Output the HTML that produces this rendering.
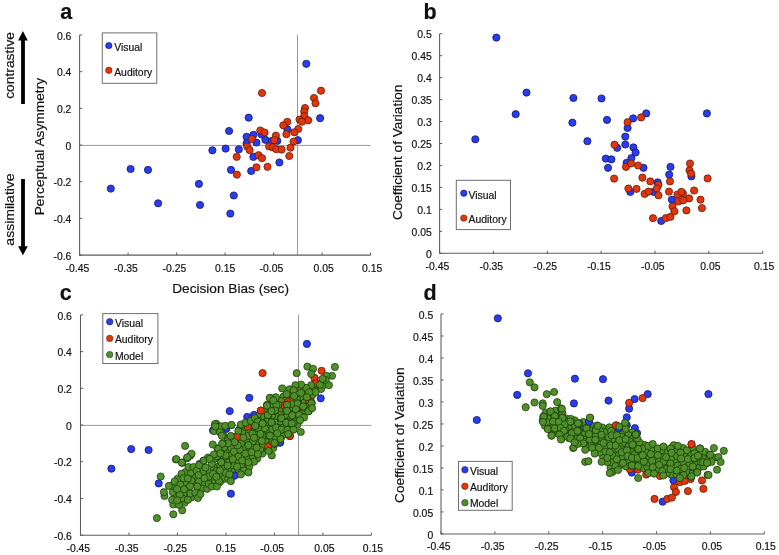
<!DOCTYPE html>
<html><head><meta charset="utf-8"><title>Figure</title>
<style>html,body{margin:0;padding:0;background:#fff;} body{width:779px;height:555px;overflow:hidden;} svg{display:block;will-change:transform;filter:blur(0.3px);} text{font-family:"Liberation Sans", sans-serif;stroke:#111;stroke-width:0.18px;}</style>
</head><body>
<svg width="779" height="555" viewBox="0 0 779 555" font-family='"Liberation Sans", sans-serif' fill="#111">
<line x1="79.6" y1="145.4" x2="370.6" y2="145.4" stroke="#9a9a9a" stroke-width="1"/>
<line x1="297.5" y1="35.0" x2="297.5" y2="255.1" stroke="#9a9a9a" stroke-width="1"/>
<path d="M79.6 35.0V255.1H370.6" fill="none" stroke="#5c5c5c" stroke-width="1.05"/>
<path d="M79.6 35.00h2.6M79.6 71.68h2.6M79.6 108.37h2.6M79.6 145.05h2.6M79.6 181.73h2.6M79.6 218.42h2.6M79.6 255.10h2.6M79.60 255.1v-2.6M128.10 255.1v-2.6M176.60 255.1v-2.6M225.10 255.1v-2.6M273.60 255.1v-2.6M322.10 255.1v-2.6M370.60 255.1v-2.6" stroke="#5c5c5c" stroke-width="1"/>
<text x="71.4" y="39.6" font-size="10.4" text-anchor="end" font-weight="normal" >0.6</text>
<text x="71.4" y="76.3" font-size="10.4" text-anchor="end" font-weight="normal" >0.4</text>
<text x="71.4" y="113.0" font-size="10.4" text-anchor="end" font-weight="normal" >0.2</text>
<text x="71.4" y="149.7" font-size="10.4" text-anchor="end" font-weight="normal" >0</text>
<text x="71.4" y="186.3" font-size="10.4" text-anchor="end" font-weight="normal" >-0.2</text>
<text x="71.4" y="223.0" font-size="10.4" text-anchor="end" font-weight="normal" >-0.4</text>
<text x="71.4" y="259.7" font-size="10.4" text-anchor="end" font-weight="normal" >-0.6</text>
<text x="77.4" y="271.6" font-size="10.4" text-anchor="middle" font-weight="normal" >-0.45</text>
<text x="125.9" y="271.6" font-size="10.4" text-anchor="middle" font-weight="normal" >-0.35</text>
<text x="174.4" y="271.6" font-size="10.4" text-anchor="middle" font-weight="normal" >-0.25</text>
<text x="225.1" y="271.6" font-size="10.4" text-anchor="middle" font-weight="normal" >0.15</text>
<text x="271.4" y="271.6" font-size="10.4" text-anchor="middle" font-weight="normal" >-0.05</text>
<text x="323.6" y="271.6" font-size="10.4" text-anchor="middle" font-weight="normal" >0.05</text>
<text x="372.1" y="271.6" font-size="10.4" text-anchor="middle" font-weight="normal" >0.15</text>
<g fill="#2a3cf0" stroke="#10186a" stroke-width="0.8">
<circle cx="110.8" cy="188.6" r="3.6"/>
<circle cx="130.6" cy="169.0" r="3.6"/>
<circle cx="148.0" cy="169.9" r="3.6"/>
<circle cx="158.1" cy="203.3" r="3.6"/>
<circle cx="198.9" cy="183.9" r="3.6"/>
<circle cx="200.0" cy="205.0" r="3.6"/>
<circle cx="212.4" cy="150.3" r="3.6"/>
<circle cx="225.6" cy="148.6" r="3.6"/>
<circle cx="229.1" cy="131.0" r="3.6"/>
<circle cx="231.0" cy="169.9" r="3.6"/>
<circle cx="233.8" cy="195.5" r="3.6"/>
<circle cx="230.3" cy="213.6" r="3.6"/>
<circle cx="238.8" cy="149.4" r="3.6"/>
<circle cx="246.6" cy="136.8" r="3.6"/>
<circle cx="246.6" cy="143.2" r="3.6"/>
<circle cx="248.7" cy="117.7" r="3.6"/>
<circle cx="253.4" cy="134.8" r="3.6"/>
<circle cx="256.4" cy="142.5" r="3.6"/>
<circle cx="253.4" cy="156.9" r="3.6"/>
<circle cx="251.2" cy="171.0" r="3.6"/>
<circle cx="265.4" cy="139.8" r="3.6"/>
<circle cx="261.5" cy="134.4" r="3.6"/>
<circle cx="287.4" cy="129.4" r="3.6"/>
<circle cx="277.3" cy="140.9" r="3.6"/>
<circle cx="271.9" cy="140.9" r="3.6"/>
<circle cx="297.9" cy="140.2" r="3.6"/>
<circle cx="279.4" cy="162.5" r="3.6"/>
<circle cx="306.3" cy="63.8" r="3.6"/>
<circle cx="320.1" cy="118.2" r="3.6"/>
</g>
<g fill="#e0380c" stroke="#6a1808" stroke-width="0.8">
<circle cx="262.0" cy="93.0" r="3.6"/>
<circle cx="321.0" cy="90.7" r="3.6"/>
<circle cx="314.0" cy="98.0" r="3.6"/>
<circle cx="315.5" cy="103.3" r="3.6"/>
<circle cx="305.0" cy="108.0" r="3.6"/>
<circle cx="304.2" cy="111.7" r="3.6"/>
<circle cx="304.2" cy="116.2" r="3.6"/>
<circle cx="299.5" cy="119.6" r="3.6"/>
<circle cx="308.2" cy="120.3" r="3.6"/>
<circle cx="302.0" cy="121.7" r="3.6"/>
<circle cx="287.3" cy="121.8" r="3.6"/>
<circle cx="283.3" cy="125.3" r="3.6"/>
<circle cx="298.3" cy="129.0" r="3.6"/>
<circle cx="294.3" cy="132.3" r="3.6"/>
<circle cx="286.4" cy="134.2" r="3.6"/>
<circle cx="260.3" cy="130.5" r="3.6"/>
<circle cx="264.6" cy="132.5" r="3.6"/>
<circle cx="275.9" cy="135.6" r="3.6"/>
<circle cx="274.3" cy="140.1" r="3.6"/>
<circle cx="251.8" cy="138.9" r="3.6"/>
<circle cx="293.5" cy="141.6" r="3.6"/>
<circle cx="290.5" cy="147.7" r="3.6"/>
<circle cx="269.1" cy="146.4" r="3.6"/>
<circle cx="272.7" cy="147.3" r="3.6"/>
<circle cx="276.3" cy="149.2" r="3.6"/>
<circle cx="281.7" cy="149.6" r="3.6"/>
<circle cx="247.2" cy="146.5" r="3.6"/>
<circle cx="249.6" cy="150.1" r="3.6"/>
<circle cx="236.7" cy="156.8" r="3.6"/>
<circle cx="258.5" cy="155.2" r="3.6"/>
<circle cx="262.0" cy="158.2" r="3.6"/>
<circle cx="289.3" cy="156.0" r="3.6"/>
<circle cx="256.4" cy="167.3" r="3.6"/>
<circle cx="267.5" cy="166.8" r="3.6"/>
<circle cx="236.9" cy="174.6" r="3.6"/>
</g>
<rect x="102.3" y="32.9" width="54.500000000000014" height="50.4" fill="#fff" stroke="#6e6e6e" stroke-width="1"/>
<circle cx="108.8" cy="45.6" r="3.2" fill="#2a3cf0" stroke="#10186a" stroke-width="0.6"/>
<text x="114.2" y="50.7" font-size="10.4" text-anchor="start" font-weight="normal" >Visual</text>
<circle cx="108.8" cy="70.3" r="3.2" fill="#e0380c" stroke="#6a1808" stroke-width="0.6"/>
<text x="114.2" y="75.5" font-size="10.4" text-anchor="start" font-weight="normal" >Auditory</text>
<path d="M439.6 33.7V253.3H762.7" fill="none" stroke="#5c5c5c" stroke-width="1.05"/>
<path d="M439.6 33.70h2.6M439.6 55.66h2.6M439.6 77.62h2.6M439.6 99.58h2.6M439.6 121.54h2.6M439.6 143.50h2.6M439.6 165.46h2.6M439.6 187.42h2.6M439.6 209.38h2.6M439.6 231.34h2.6M439.6 253.30h2.6M439.60 253.3v-2.6M493.45 253.3v-2.6M547.30 253.3v-2.6M601.15 253.3v-2.6M655.00 253.3v-2.6M708.85 253.3v-2.6M762.70 253.3v-2.6" stroke="#5c5c5c" stroke-width="1"/>
<text x="431.8" y="38.3" font-size="10.4" text-anchor="end" font-weight="normal" >0.5</text>
<text x="431.8" y="60.3" font-size="10.4" text-anchor="end" font-weight="normal" >0.45</text>
<text x="431.8" y="82.2" font-size="10.4" text-anchor="end" font-weight="normal" >0.4</text>
<text x="431.8" y="104.2" font-size="10.4" text-anchor="end" font-weight="normal" >0.35</text>
<text x="431.8" y="126.1" font-size="10.4" text-anchor="end" font-weight="normal" >0.3</text>
<text x="431.8" y="148.1" font-size="10.4" text-anchor="end" font-weight="normal" >0.25</text>
<text x="431.8" y="170.1" font-size="10.4" text-anchor="end" font-weight="normal" >0.2</text>
<text x="431.8" y="192.0" font-size="10.4" text-anchor="end" font-weight="normal" >0.15</text>
<text x="431.8" y="214.0" font-size="10.4" text-anchor="end" font-weight="normal" >0.1</text>
<text x="431.8" y="235.9" font-size="10.4" text-anchor="end" font-weight="normal" >0.05</text>
<text x="431.8" y="257.9" font-size="10.4" text-anchor="end" font-weight="normal" >0</text>
<text x="437.4" y="269.8" font-size="10.4" text-anchor="middle" font-weight="normal" >-0.45</text>
<text x="491.3" y="269.8" font-size="10.4" text-anchor="middle" font-weight="normal" >-0.35</text>
<text x="545.1" y="269.8" font-size="10.4" text-anchor="middle" font-weight="normal" >-0.25</text>
<text x="599.0" y="269.8" font-size="10.4" text-anchor="middle" font-weight="normal" >-0.15</text>
<text x="652.8" y="269.8" font-size="10.4" text-anchor="middle" font-weight="normal" >-0.05</text>
<text x="710.4" y="269.8" font-size="10.4" text-anchor="middle" font-weight="normal" >0.05</text>
<text x="764.2" y="269.8" font-size="10.4" text-anchor="middle" font-weight="normal" >0.15</text>
<g fill="#2a3cf0" stroke="#10186a" stroke-width="0.8">
<circle cx="496.3" cy="37.6" r="3.6"/>
<circle cx="526.5" cy="92.6" r="3.6"/>
<circle cx="515.7" cy="114.2" r="3.6"/>
<circle cx="475.3" cy="139.3" r="3.6"/>
<circle cx="573.4" cy="98.0" r="3.6"/>
<circle cx="601.5" cy="98.5" r="3.6"/>
<circle cx="572.4" cy="122.7" r="3.6"/>
<circle cx="587.4" cy="141.2" r="3.6"/>
<circle cx="607.0" cy="119.9" r="3.6"/>
<circle cx="646.2" cy="113.4" r="3.6"/>
<circle cx="706.9" cy="113.4" r="3.6"/>
<circle cx="633.1" cy="118.4" r="3.6"/>
<circle cx="627.6" cy="128.0" r="3.6"/>
<circle cx="625.3" cy="136.6" r="3.6"/>
<circle cx="625.3" cy="144.5" r="3.6"/>
<circle cx="617.2" cy="147.8" r="3.6"/>
<circle cx="633.4" cy="147.4" r="3.6"/>
<circle cx="635.6" cy="152.5" r="3.6"/>
<circle cx="605.8" cy="158.6" r="3.6"/>
<circle cx="611.4" cy="159.4" r="3.6"/>
<circle cx="608.0" cy="167.8" r="3.6"/>
<circle cx="631.4" cy="158.1" r="3.6"/>
<circle cx="643.5" cy="167.8" r="3.6"/>
<circle cx="670.5" cy="166.9" r="3.6"/>
<circle cx="669.2" cy="174.6" r="3.6"/>
<circle cx="657.7" cy="182.4" r="3.6"/>
<circle cx="653.6" cy="191.9" r="3.6"/>
<circle cx="630.3" cy="191.9" r="3.6"/>
<circle cx="671.9" cy="199.7" r="3.6"/>
<circle cx="661.2" cy="221.0" r="3.6"/>
<circle cx="691.4" cy="176.4" r="3.6"/>
<circle cx="626.6" cy="162.8" r="3.6"/>
</g>
<g fill="#e0380c" stroke="#6a1808" stroke-width="0.8">
<circle cx="641.1" cy="117.4" r="3.6"/>
<circle cx="627.6" cy="122.2" r="3.6"/>
<circle cx="614.5" cy="144.7" r="3.6"/>
<circle cx="626.0" cy="166.9" r="3.6"/>
<circle cx="631.1" cy="163.5" r="3.6"/>
<circle cx="638.1" cy="165.5" r="3.6"/>
<circle cx="614.1" cy="178.6" r="3.6"/>
<circle cx="642.4" cy="177.7" r="3.6"/>
<circle cx="650.3" cy="181.4" r="3.6"/>
<circle cx="658.4" cy="184.9" r="3.6"/>
<circle cx="656.8" cy="188.5" r="3.6"/>
<circle cx="658.4" cy="195.3" r="3.6"/>
<circle cx="670.0" cy="181.4" r="3.6"/>
<circle cx="669.0" cy="191.6" r="3.6"/>
<circle cx="628.4" cy="188.5" r="3.6"/>
<circle cx="636.5" cy="188.9" r="3.6"/>
<circle cx="644.6" cy="193.9" r="3.6"/>
<circle cx="648.6" cy="191.6" r="3.6"/>
<circle cx="677.5" cy="194.5" r="3.6"/>
<circle cx="678.5" cy="201.5" r="3.6"/>
<circle cx="672.5" cy="206.5" r="3.6"/>
<circle cx="674.4" cy="211.3" r="3.6"/>
<circle cx="653.0" cy="218.2" r="3.6"/>
<circle cx="665.8" cy="218.2" r="3.6"/>
<circle cx="670.4" cy="216.9" r="3.6"/>
<circle cx="690.0" cy="163.5" r="3.6"/>
<circle cx="689.5" cy="170.3" r="3.6"/>
<circle cx="691.1" cy="173.6" r="3.6"/>
<circle cx="707.6" cy="178.4" r="3.6"/>
<circle cx="694.1" cy="190.5" r="3.6"/>
<circle cx="683.0" cy="193.5" r="3.6"/>
<circle cx="681.4" cy="191.9" r="3.6"/>
<circle cx="689.1" cy="198.4" r="3.6"/>
<circle cx="683.2" cy="200.3" r="3.6"/>
<circle cx="700.5" cy="199.7" r="3.6"/>
<circle cx="686.4" cy="210.4" r="3.6"/>
<circle cx="701.9" cy="208.1" r="3.6"/>
</g>
<rect x="456.3" y="180.3" width="54.19999999999999" height="49.29999999999998" fill="#fff" stroke="#6e6e6e" stroke-width="1"/>
<circle cx="463.8" cy="193.2" r="3.2" fill="#2a3cf0" stroke="#10186a" stroke-width="0.6"/>
<text x="468.5" y="198.5" font-size="10.4" text-anchor="start" font-weight="normal" >Visual</text>
<circle cx="463.8" cy="218.1" r="3.2" fill="#e0380c" stroke="#6a1808" stroke-width="0.6"/>
<text x="468.5" y="223.3" font-size="10.4" text-anchor="start" font-weight="normal" >Auditory</text>
<line x1="80.5" y1="425.4" x2="371.4" y2="425.4" stroke="#9a9a9a" stroke-width="1"/>
<line x1="298.5" y1="314.9" x2="298.5" y2="535.2" stroke="#9a9a9a" stroke-width="1"/>
<path d="M80.5 314.9V535.2H371.4" fill="none" stroke="#5c5c5c" stroke-width="1.05"/>
<path d="M80.5 314.90h2.6M80.5 351.62h2.6M80.5 388.33h2.6M80.5 425.05h2.6M80.5 461.77h2.6M80.5 498.48h2.6M80.5 535.20h2.6M80.50 535.2v-2.6M128.98 535.2v-2.6M177.47 535.2v-2.6M225.95 535.2v-2.6M274.43 535.2v-2.6M322.92 535.2v-2.6M371.40 535.2v-2.6" stroke="#5c5c5c" stroke-width="1"/>
<text x="71.9" y="319.5" font-size="10.4" text-anchor="end" font-weight="normal" >0.6</text>
<text x="71.9" y="356.2" font-size="10.4" text-anchor="end" font-weight="normal" >0.4</text>
<text x="71.9" y="392.9" font-size="10.4" text-anchor="end" font-weight="normal" >0.2</text>
<text x="71.9" y="429.7" font-size="10.4" text-anchor="end" font-weight="normal" >0</text>
<text x="71.9" y="466.4" font-size="10.4" text-anchor="end" font-weight="normal" >-0.2</text>
<text x="71.9" y="503.1" font-size="10.4" text-anchor="end" font-weight="normal" >-0.4</text>
<text x="71.9" y="539.8" font-size="10.4" text-anchor="end" font-weight="normal" >-0.6</text>
<text x="78.3" y="551.6" font-size="10.4" text-anchor="middle" font-weight="normal" >-0.45</text>
<text x="126.8" y="551.6" font-size="10.4" text-anchor="middle" font-weight="normal" >-0.35</text>
<text x="175.3" y="551.6" font-size="10.4" text-anchor="middle" font-weight="normal" >-0.25</text>
<text x="225.9" y="551.6" font-size="10.4" text-anchor="middle" font-weight="normal" >0.15</text>
<text x="272.2" y="551.6" font-size="10.4" text-anchor="middle" font-weight="normal" >-0.05</text>
<text x="324.4" y="551.6" font-size="10.4" text-anchor="middle" font-weight="normal" >0.05</text>
<text x="372.9" y="551.6" font-size="10.4" text-anchor="middle" font-weight="normal" >0.15</text>
<g fill="#2a3cf0" stroke="#10186a" stroke-width="0.8">
<circle cx="111.4" cy="468.7" r="3.6"/>
<circle cx="131.2" cy="449.1" r="3.6"/>
<circle cx="148.6" cy="450.0" r="3.6"/>
<circle cx="158.7" cy="483.4" r="3.6"/>
<circle cx="199.5" cy="464.0" r="3.6"/>
<circle cx="200.6" cy="485.1" r="3.6"/>
<circle cx="213.0" cy="430.4" r="3.6"/>
<circle cx="226.2" cy="428.7" r="3.6"/>
<circle cx="229.7" cy="411.1" r="3.6"/>
<circle cx="231.6" cy="450.0" r="3.6"/>
<circle cx="234.4" cy="475.6" r="3.6"/>
<circle cx="230.9" cy="493.7" r="3.6"/>
<circle cx="239.4" cy="429.5" r="3.6"/>
<circle cx="247.2" cy="416.9" r="3.6"/>
<circle cx="247.2" cy="423.3" r="3.6"/>
<circle cx="249.3" cy="397.8" r="3.6"/>
<circle cx="254.0" cy="414.9" r="3.6"/>
<circle cx="257.0" cy="422.6" r="3.6"/>
<circle cx="254.0" cy="437.0" r="3.6"/>
<circle cx="251.8" cy="451.1" r="3.6"/>
<circle cx="266.0" cy="419.9" r="3.6"/>
<circle cx="262.1" cy="414.5" r="3.6"/>
<circle cx="288.0" cy="409.5" r="3.6"/>
<circle cx="277.9" cy="421.0" r="3.6"/>
<circle cx="272.5" cy="421.0" r="3.6"/>
<circle cx="298.5" cy="420.3" r="3.6"/>
<circle cx="280.0" cy="442.6" r="3.6"/>
<circle cx="306.9" cy="343.9" r="3.6"/>
<circle cx="320.7" cy="398.3" r="3.6"/>
</g>
<g fill="#e0380c" stroke="#6a1808" stroke-width="0.8">
<circle cx="262.6" cy="373.1" r="3.6"/>
<circle cx="321.6" cy="370.8" r="3.6"/>
<circle cx="314.6" cy="378.1" r="3.6"/>
<circle cx="316.1" cy="383.4" r="3.6"/>
<circle cx="305.6" cy="388.1" r="3.6"/>
<circle cx="304.8" cy="391.8" r="3.6"/>
<circle cx="304.8" cy="396.3" r="3.6"/>
<circle cx="300.1" cy="399.7" r="3.6"/>
<circle cx="308.8" cy="400.4" r="3.6"/>
<circle cx="302.6" cy="401.8" r="3.6"/>
<circle cx="287.9" cy="401.9" r="3.6"/>
<circle cx="283.9" cy="405.4" r="3.6"/>
<circle cx="298.9" cy="409.1" r="3.6"/>
<circle cx="294.9" cy="412.4" r="3.6"/>
<circle cx="287.0" cy="414.3" r="3.6"/>
<circle cx="260.9" cy="410.6" r="3.6"/>
<circle cx="265.2" cy="412.6" r="3.6"/>
<circle cx="276.5" cy="415.7" r="3.6"/>
<circle cx="274.9" cy="420.2" r="3.6"/>
<circle cx="252.4" cy="419.0" r="3.6"/>
<circle cx="294.1" cy="421.7" r="3.6"/>
<circle cx="291.1" cy="427.8" r="3.6"/>
<circle cx="269.7" cy="426.5" r="3.6"/>
<circle cx="273.3" cy="427.4" r="3.6"/>
<circle cx="276.9" cy="429.3" r="3.6"/>
<circle cx="282.3" cy="429.7" r="3.6"/>
<circle cx="247.8" cy="426.6" r="3.6"/>
<circle cx="250.2" cy="430.2" r="3.6"/>
<circle cx="237.3" cy="436.9" r="3.6"/>
<circle cx="259.1" cy="435.3" r="3.6"/>
<circle cx="262.6" cy="438.3" r="3.6"/>
<circle cx="289.9" cy="436.1" r="3.6"/>
<circle cx="257.0" cy="447.4" r="3.6"/>
<circle cx="268.1" cy="446.9" r="3.6"/>
<circle cx="237.5" cy="454.7" r="3.6"/>
</g>
<g fill="#50902a" stroke="#183409" stroke-width="0.72">
<circle cx="292.0" cy="399.6" r="3.6"/>
<circle cx="227.3" cy="451.2" r="3.6"/>
<circle cx="185.5" cy="472.1" r="3.6"/>
<circle cx="194.9" cy="482.9" r="3.6"/>
<circle cx="186.6" cy="482.3" r="3.6"/>
<circle cx="264.5" cy="449.4" r="3.6"/>
<circle cx="264.5" cy="412.0" r="3.6"/>
<circle cx="299.5" cy="388.4" r="3.6"/>
<circle cx="283.4" cy="396.6" r="3.6"/>
<circle cx="209.2" cy="472.3" r="3.6"/>
<circle cx="300.9" cy="397.2" r="3.6"/>
<circle cx="310.6" cy="398.7" r="3.6"/>
<circle cx="286.1" cy="400.1" r="3.6"/>
<circle cx="211.4" cy="479.9" r="3.6"/>
<circle cx="282.9" cy="434.9" r="3.6"/>
<circle cx="245.1" cy="466.5" r="3.6"/>
<circle cx="283.9" cy="426.0" r="3.6"/>
<circle cx="321.1" cy="388.9" r="3.6"/>
<circle cx="227.7" cy="438.8" r="3.6"/>
<circle cx="248.1" cy="449.6" r="3.6"/>
<circle cx="259.5" cy="415.7" r="3.6"/>
<circle cx="184.6" cy="502.7" r="3.6"/>
<circle cx="271.5" cy="440.1" r="3.6"/>
<circle cx="297.0" cy="399.6" r="3.6"/>
<circle cx="314.6" cy="388.3" r="3.6"/>
<circle cx="243.5" cy="447.1" r="3.6"/>
<circle cx="290.2" cy="407.9" r="3.6"/>
<circle cx="239.8" cy="449.7" r="3.6"/>
<circle cx="222.0" cy="474.7" r="3.6"/>
<circle cx="248.0" cy="440.7" r="3.6"/>
<circle cx="262.3" cy="453.6" r="3.6"/>
<circle cx="248.4" cy="431.9" r="3.6"/>
<circle cx="280.8" cy="413.6" r="3.6"/>
<circle cx="265.8" cy="441.5" r="3.6"/>
<circle cx="256.4" cy="432.6" r="3.6"/>
<circle cx="242.4" cy="431.7" r="3.6"/>
<circle cx="286.9" cy="416.2" r="3.6"/>
<circle cx="247.7" cy="436.1" r="3.6"/>
<circle cx="250.6" cy="425.3" r="3.6"/>
<circle cx="271.4" cy="404.1" r="3.6"/>
<circle cx="202.4" cy="484.0" r="3.6"/>
<circle cx="256.6" cy="442.4" r="3.6"/>
<circle cx="324.0" cy="384.8" r="3.6"/>
<circle cx="201.6" cy="488.6" r="3.6"/>
<circle cx="230.6" cy="469.5" r="3.6"/>
<circle cx="281.7" cy="408.4" r="3.6"/>
<circle cx="235.1" cy="475.1" r="3.6"/>
<circle cx="269.3" cy="426.3" r="3.6"/>
<circle cx="239.2" cy="437.5" r="3.6"/>
<circle cx="194.1" cy="477.2" r="3.6"/>
<circle cx="231.3" cy="448.4" r="3.6"/>
<circle cx="198.9" cy="481.2" r="3.6"/>
<circle cx="281.1" cy="401.2" r="3.6"/>
<circle cx="269.6" cy="445.6" r="3.6"/>
<circle cx="257.2" cy="458.6" r="3.6"/>
<circle cx="251.9" cy="458.2" r="3.6"/>
<circle cx="203.2" cy="471.7" r="3.6"/>
<circle cx="264.2" cy="435.7" r="3.6"/>
<circle cx="252.7" cy="441.6" r="3.6"/>
<circle cx="304.4" cy="402.6" r="3.6"/>
<circle cx="235.0" cy="436.7" r="3.6"/>
<circle cx="188.2" cy="490.0" r="3.6"/>
<circle cx="297.4" cy="424.7" r="3.6"/>
<circle cx="303.8" cy="411.4" r="3.6"/>
<circle cx="241.1" cy="443.3" r="3.6"/>
<circle cx="218.8" cy="466.0" r="3.6"/>
<circle cx="237.9" cy="461.2" r="3.6"/>
<circle cx="183.6" cy="493.9" r="3.6"/>
<circle cx="264.0" cy="417.2" r="3.6"/>
<circle cx="182.4" cy="498.5" r="3.6"/>
<circle cx="258.6" cy="428.3" r="3.6"/>
<circle cx="276.4" cy="416.6" r="3.6"/>
<circle cx="234.4" cy="471.0" r="3.6"/>
<circle cx="207.1" cy="488.8" r="3.6"/>
<circle cx="213.6" cy="459.3" r="3.6"/>
<circle cx="223.8" cy="447.7" r="3.6"/>
<circle cx="272.3" cy="415.2" r="3.6"/>
<circle cx="312.5" cy="394.7" r="3.6"/>
<circle cx="258.7" cy="438.1" r="3.6"/>
<circle cx="177.6" cy="478.8" r="3.6"/>
<circle cx="237.6" cy="445.4" r="3.6"/>
<circle cx="191.3" cy="497.5" r="3.6"/>
<circle cx="245.4" cy="426.9" r="3.6"/>
<circle cx="233.4" cy="465.2" r="3.6"/>
<circle cx="262.8" cy="445.7" r="3.6"/>
<circle cx="213.8" cy="467.8" r="3.6"/>
<circle cx="273.3" cy="433.0" r="3.6"/>
<circle cx="223.6" cy="478.9" r="3.6"/>
<circle cx="308.2" cy="406.4" r="3.6"/>
<circle cx="230.3" cy="455.6" r="3.6"/>
<circle cx="290.2" cy="419.6" r="3.6"/>
<circle cx="246.5" cy="458.8" r="3.6"/>
<circle cx="241.1" cy="466.2" r="3.6"/>
<circle cx="315.1" cy="383.9" r="3.6"/>
<circle cx="252.3" cy="447.8" r="3.6"/>
<circle cx="290.6" cy="393.9" r="3.6"/>
<circle cx="268.2" cy="431.1" r="3.6"/>
<circle cx="295.9" cy="418.7" r="3.6"/>
<circle cx="175.3" cy="496.3" r="3.6"/>
<circle cx="273.3" cy="448.0" r="3.6"/>
<circle cx="225.5" cy="459.6" r="3.6"/>
<circle cx="260.2" cy="449.9" r="3.6"/>
<circle cx="315.6" cy="392.2" r="3.6"/>
<circle cx="252.5" cy="433.7" r="3.6"/>
<circle cx="224.5" cy="468.2" r="3.6"/>
<circle cx="249.3" cy="466.5" r="3.6"/>
<circle cx="275.5" cy="437.3" r="3.6"/>
<circle cx="208.7" cy="476.5" r="3.6"/>
<circle cx="191.4" cy="480.4" r="3.6"/>
<circle cx="238.8" cy="470.6" r="3.6"/>
<circle cx="289.6" cy="389.3" r="3.6"/>
<circle cx="214.3" cy="483.1" r="3.6"/>
</g>
<g fill="#2a3cf0" stroke="#10186a" stroke-width="0.8">
<circle cx="234.4" cy="475.6" r="3.6"/>
<circle cx="280.0" cy="442.6" r="3.6"/>
<circle cx="226.2" cy="428.7" r="3.6"/>
</g>
<g fill="#e0380c" stroke="#6a1808" stroke-width="0.8">
<circle cx="237.3" cy="436.9" r="3.6"/>
<circle cx="260.9" cy="410.6" r="3.6"/>
<circle cx="247.8" cy="426.6" r="3.6"/>
<circle cx="268.1" cy="446.9" r="3.6"/>
<circle cx="289.9" cy="436.1" r="3.6"/>
<circle cx="287.9" cy="401.9" r="3.6"/>
<circle cx="283.9" cy="405.4" r="3.6"/>
<circle cx="308.8" cy="400.4" r="3.6"/>
<circle cx="314.6" cy="378.1" r="3.6"/>
<circle cx="316.1" cy="383.4" r="3.6"/>
</g>
<g fill="#50902a" stroke="#183409" stroke-width="0.72">
<circle cx="156.9" cy="518.1" r="3.6"/>
<circle cx="173.3" cy="514.3" r="3.6"/>
<circle cx="182.2" cy="510.3" r="3.6"/>
<circle cx="173.3" cy="504.5" r="3.6"/>
<circle cx="179.0" cy="504.8" r="3.6"/>
<circle cx="172.1" cy="499.8" r="3.6"/>
<circle cx="164.5" cy="496.0" r="3.6"/>
<circle cx="163.9" cy="492.2" r="3.6"/>
<circle cx="172.7" cy="492.2" r="3.6"/>
<circle cx="172.1" cy="485.9" r="3.6"/>
<circle cx="174.6" cy="481.5" r="3.6"/>
<circle cx="160.7" cy="476.5" r="3.6"/>
<circle cx="175.9" cy="459.4" r="3.6"/>
<circle cx="182.2" cy="462.8" r="3.6"/>
<circle cx="187.2" cy="458.2" r="3.6"/>
<circle cx="190.4" cy="455.6" r="3.6"/>
<circle cx="181.5" cy="473.9" r="3.6"/>
<circle cx="183.4" cy="478.3" r="3.6"/>
<circle cx="180.3" cy="484.7" r="3.6"/>
<circle cx="184.1" cy="489.3" r="3.6"/>
<circle cx="179.7" cy="494.7" r="3.6"/>
<circle cx="177.1" cy="500.4" r="3.6"/>
<circle cx="187.9" cy="499.8" r="3.6"/>
<circle cx="190.4" cy="493.5" r="3.6"/>
<circle cx="190.1" cy="486.3" r="3.6"/>
<circle cx="187.9" cy="478.3" r="3.6"/>
<circle cx="191.0" cy="472.7" r="3.6"/>
<circle cx="188.5" cy="467.0" r="3.6"/>
<circle cx="193.5" cy="467.0" r="3.6"/>
<circle cx="196.7" cy="470.8" r="3.6"/>
<circle cx="198.6" cy="475.2" r="3.6"/>
<circle cx="197.3" cy="486.5" r="3.6"/>
<circle cx="195.4" cy="492.9" r="3.6"/>
<circle cx="198.0" cy="497.9" r="3.6"/>
<circle cx="200.5" cy="494.1" r="3.6"/>
<circle cx="203.6" cy="460.7" r="3.6"/>
<circle cx="199.2" cy="465.1" r="3.6"/>
<circle cx="205.5" cy="467.6" r="3.6"/>
<circle cx="204.3" cy="478.3" r="3.6"/>
<circle cx="208.7" cy="484.0" r="3.6"/>
<circle cx="211.8" cy="463.8" r="3.6"/>
<circle cx="216.9" cy="470.8" r="3.6"/>
<circle cx="220.7" cy="461.3" r="3.6"/>
<circle cx="220.0" cy="482.1" r="3.6"/>
<circle cx="213.1" cy="473.9" r="3.6"/>
<circle cx="211.8" cy="486.5" r="3.6"/>
<circle cx="216.9" cy="486.5" r="3.6"/>
<circle cx="225.7" cy="472.7" r="3.6"/>
<circle cx="228.2" cy="479.0" r="3.6"/>
<circle cx="228.2" cy="462.6" r="3.6"/>
<circle cx="223.2" cy="455.6" r="3.6"/>
<circle cx="216.9" cy="456.3" r="3.6"/>
<circle cx="208.0" cy="457.5" r="3.6"/>
<circle cx="177.1" cy="489.1" r="3.6"/>
<circle cx="168.9" cy="485.9" r="3.6"/>
<circle cx="216.3" cy="423.8" r="3.6"/>
<circle cx="220.0" cy="427.6" r="3.6"/>
<circle cx="225.1" cy="426.4" r="3.6"/>
<circle cx="231.4" cy="425.1" r="3.6"/>
<circle cx="220.0" cy="432.0" r="3.6"/>
<circle cx="223.2" cy="435.2" r="3.6"/>
<circle cx="230.8" cy="435.8" r="3.6"/>
<circle cx="238.3" cy="430.8" r="3.6"/>
<circle cx="241.5" cy="425.1" r="3.6"/>
<circle cx="245.9" cy="422.6" r="3.6"/>
<circle cx="251.6" cy="420.7" r="3.6"/>
<circle cx="255.4" cy="425.7" r="3.6"/>
<circle cx="258.5" cy="420.7" r="3.6"/>
<circle cx="263.0" cy="423.8" r="3.6"/>
<circle cx="268.0" cy="416.3" r="3.6"/>
<circle cx="271.2" cy="422.6" r="3.6"/>
<circle cx="276.2" cy="427.6" r="3.6"/>
<circle cx="281.2" cy="418.2" r="3.6"/>
<circle cx="286.3" cy="421.9" r="3.6"/>
<circle cx="290.7" cy="423.8" r="3.6"/>
<circle cx="293.2" cy="429.5" r="3.6"/>
<circle cx="287.6" cy="430.1" r="3.6"/>
<circle cx="280.6" cy="430.1" r="3.6"/>
<circle cx="280.6" cy="439.0" r="3.6"/>
<circle cx="274.9" cy="444.0" r="3.6"/>
<circle cx="271.8" cy="455.4" r="3.6"/>
<circle cx="268.6" cy="451.0" r="3.6"/>
<circle cx="268.6" cy="435.8" r="3.6"/>
<circle cx="261.7" cy="440.9" r="3.6"/>
<circle cx="260.4" cy="433.9" r="3.6"/>
<circle cx="254.1" cy="437.7" r="3.6"/>
<circle cx="248.4" cy="445.3" r="3.6"/>
<circle cx="243.4" cy="437.7" r="3.6"/>
<circle cx="234.6" cy="442.1" r="3.6"/>
<circle cx="228.2" cy="443.4" r="3.6"/>
<circle cx="222.6" cy="443.4" r="3.6"/>
<circle cx="217.5" cy="448.4" r="3.6"/>
<circle cx="220.7" cy="452.9" r="3.6"/>
<circle cx="225.7" cy="455.4" r="3.6"/>
<circle cx="233.9" cy="451.6" r="3.6"/>
<circle cx="238.3" cy="456.6" r="3.6"/>
<circle cx="245.3" cy="453.5" r="3.6"/>
<circle cx="251.6" cy="452.2" r="3.6"/>
<circle cx="256.6" cy="447.8" r="3.6"/>
<circle cx="257.9" cy="454.1" r="3.6"/>
<circle cx="254.1" cy="461.7" r="3.6"/>
<circle cx="248.4" cy="462.3" r="3.6"/>
<circle cx="242.1" cy="460.4" r="3.6"/>
<circle cx="232.7" cy="459.2" r="3.6"/>
<circle cx="221.3" cy="462.3" r="3.6"/>
<circle cx="227.6" cy="465.5" r="3.6"/>
<circle cx="237.1" cy="466.7" r="3.6"/>
<circle cx="244.0" cy="470.5" r="3.6"/>
<circle cx="248.4" cy="472.4" r="3.6"/>
<circle cx="240.9" cy="474.3" r="3.6"/>
<circle cx="229.5" cy="474.3" r="3.6"/>
<circle cx="220.0" cy="470.5" r="3.6"/>
<circle cx="218.8" cy="480.6" r="3.6"/>
<circle cx="230.8" cy="481.2" r="3.6"/>
<circle cx="216.3" cy="476.8" r="3.6"/>
<circle cx="264.8" cy="428.2" r="3.6"/>
<circle cx="272.4" cy="428.9" r="3.6"/>
<circle cx="280.6" cy="421.3" r="3.6"/>
<circle cx="307.4" cy="366.6" r="3.6"/>
<circle cx="313.1" cy="368.8" r="3.6"/>
<circle cx="311.2" cy="373.9" r="3.6"/>
<circle cx="334.9" cy="366.9" r="3.6"/>
<circle cx="332.0" cy="375.8" r="3.6"/>
<circle cx="326.4" cy="375.8" r="3.6"/>
<circle cx="325.7" cy="380.2" r="3.6"/>
<circle cx="328.9" cy="385.2" r="3.6"/>
<circle cx="320.0" cy="384.6" r="3.6"/>
<circle cx="322.6" cy="378.9" r="3.6"/>
<circle cx="296.7" cy="373.2" r="3.6"/>
<circle cx="311.2" cy="385.2" r="3.6"/>
<circle cx="306.2" cy="387.8" r="3.6"/>
<circle cx="301.1" cy="384.6" r="3.6"/>
<circle cx="295.4" cy="385.2" r="3.6"/>
<circle cx="282.2" cy="388.4" r="3.6"/>
<circle cx="293.5" cy="390.3" r="3.6"/>
<circle cx="301.1" cy="392.8" r="3.6"/>
<circle cx="309.3" cy="392.2" r="3.6"/>
<circle cx="306.8" cy="397.2" r="3.6"/>
<circle cx="286.6" cy="394.1" r="3.6"/>
<circle cx="275.9" cy="397.2" r="3.6"/>
<circle cx="270.2" cy="397.9" r="3.6"/>
<circle cx="294.2" cy="396.0" r="3.6"/>
<circle cx="298.0" cy="403.5" r="3.6"/>
<circle cx="311.8" cy="402.9" r="3.6"/>
<circle cx="308.7" cy="411.1" r="3.6"/>
<circle cx="303.6" cy="407.3" r="3.6"/>
<circle cx="292.3" cy="404.2" r="3.6"/>
<circle cx="287.2" cy="404.8" r="3.6"/>
<circle cx="278.4" cy="404.8" r="3.6"/>
<circle cx="267.0" cy="404.8" r="3.6"/>
<circle cx="274.6" cy="410.5" r="3.6"/>
<circle cx="268.3" cy="414.3" r="3.6"/>
<circle cx="286.0" cy="410.5" r="3.6"/>
<circle cx="296.1" cy="409.8" r="3.6"/>
<circle cx="292.3" cy="415.5" r="3.6"/>
<circle cx="298.6" cy="414.9" r="3.6"/>
<circle cx="280.9" cy="418.0" r="3.6"/>
<circle cx="274.6" cy="422.5" r="3.6"/>
<circle cx="267.0" cy="421.8" r="3.6"/>
<circle cx="286.6" cy="422.5" r="3.6"/>
<circle cx="293.5" cy="423.1" r="3.6"/>
<circle cx="302.4" cy="416.8" r="3.6"/>
<circle cx="262.6" cy="423.1" r="3.6"/>
<circle cx="276.5" cy="404.9" r="3.6"/>
<circle cx="287.0" cy="404.9" r="3.6"/>
<circle cx="297.6" cy="403.6" r="3.6"/>
<circle cx="311.4" cy="403.2" r="3.6"/>
<circle cx="303.3" cy="406.5" r="3.6"/>
<circle cx="274.9" cy="410.5" r="3.6"/>
<circle cx="287.0" cy="410.9" r="3.6"/>
<circle cx="296.0" cy="409.3" r="3.6"/>
<circle cx="308.5" cy="411.4" r="3.6"/>
<circle cx="312.2" cy="408.1" r="3.6"/>
<circle cx="281.4" cy="418.2" r="3.6"/>
<circle cx="292.3" cy="415.4" r="3.6"/>
<circle cx="299.2" cy="415.0" r="3.6"/>
<circle cx="304.1" cy="417.4" r="3.6"/>
<circle cx="271.6" cy="422.7" r="3.6"/>
<circle cx="286.2" cy="422.7" r="3.6"/>
<circle cx="291.9" cy="423.5" r="3.6"/>
<circle cx="300.0" cy="420.3" r="3.6"/>
<circle cx="276.1" cy="427.6" r="3.6"/>
<circle cx="281.4" cy="429.6" r="3.6"/>
<circle cx="287.4" cy="430.0" r="3.6"/>
<circle cx="293.5" cy="429.6" r="3.6"/>
<circle cx="300.8" cy="432.0" r="3.6"/>
<circle cx="288.2" cy="434.1" r="3.6"/>
<circle cx="280.5" cy="438.9" r="3.6"/>
<circle cx="274.5" cy="443.0" r="3.6"/>
<circle cx="270.0" cy="435.7" r="3.6"/>
<circle cx="277.3" cy="433.3" r="3.6"/>
<circle cx="214.9" cy="424.1" r="3.6"/>
<circle cx="221.2" cy="426.3" r="3.6"/>
<circle cx="225.2" cy="425.9" r="3.6"/>
<circle cx="231.5" cy="425.0" r="3.6"/>
<circle cx="240.9" cy="424.5" r="3.6"/>
<circle cx="245.9" cy="422.7" r="3.6"/>
<circle cx="250.8" cy="420.9" r="3.6"/>
<circle cx="254.9" cy="418.2" r="3.6"/>
<circle cx="257.6" cy="421.8" r="3.6"/>
<circle cx="262.5" cy="423.6" r="3.6"/>
<circle cx="267.9" cy="415.1" r="3.6"/>
<circle cx="267.0" cy="405.7" r="3.6"/>
<circle cx="269.7" cy="398.0" r="3.6"/>
<circle cx="273.3" cy="400.3" r="3.6"/>
<circle cx="271.5" cy="411.1" r="3.6"/>
<circle cx="271.5" cy="422.3" r="3.6"/>
<circle cx="255.3" cy="425.9" r="3.6"/>
<circle cx="185.1" cy="445.9" r="3.6"/>
<circle cx="191.6" cy="453.8" r="3.6"/>
<circle cx="187.2" cy="457.4" r="3.6"/>
<circle cx="176.4" cy="459.2" r="3.6"/>
<circle cx="181.8" cy="462.5" r="3.6"/>
<circle cx="212.8" cy="444.5" r="3.6"/>
<circle cx="222.2" cy="443.7" r="3.6"/>
<circle cx="218.2" cy="448.8" r="3.6"/>
<circle cx="213.9" cy="454.5" r="3.6"/>
<circle cx="220.4" cy="453.5" r="3.6"/>
<circle cx="203.8" cy="460.7" r="3.6"/>
<circle cx="209.6" cy="458.9" r="3.6"/>
<circle cx="213.9" cy="431.1" r="3.6"/>
<circle cx="220.0" cy="432.2" r="3.6"/>
<circle cx="215.3" cy="426.4" r="3.6"/>
<circle cx="221.8" cy="435.8" r="3.6"/>
</g>
<rect x="102.8" y="313.6" width="55.10000000000001" height="49.89999999999998" fill="#fff" stroke="#6e6e6e" stroke-width="1"/>
<circle cx="109.7" cy="321.8" r="3.2" fill="#2a3cf0" stroke="#10186a" stroke-width="0.6"/>
<text x="114.9" y="326.7" font-size="10.4" text-anchor="start" font-weight="normal" >Visual</text>
<circle cx="109.7" cy="338.4" r="3.2" fill="#e0380c" stroke="#6a1808" stroke-width="0.6"/>
<text x="114.9" y="343.2" font-size="10.4" text-anchor="start" font-weight="normal" >Auditory</text>
<circle cx="109.7" cy="354.6" r="3.2" fill="#50902a" stroke="#183409" stroke-width="0.6"/>
<text x="114.9" y="360" font-size="10.4" text-anchor="start" font-weight="normal" >Model</text>
<path d="M441.0 314.0V533.9H764.3" fill="none" stroke="#5c5c5c" stroke-width="1.05"/>
<path d="M441.0 314.00h2.6M441.0 335.99h2.6M441.0 357.98h2.6M441.0 379.97h2.6M441.0 401.96h2.6M441.0 423.95h2.6M441.0 445.94h2.6M441.0 467.93h2.6M441.0 489.92h2.6M441.0 511.91h2.6M441.0 533.90h2.6M441.00 533.9v-2.6M494.88 533.9v-2.6M548.77 533.9v-2.6M602.65 533.9v-2.6M656.53 533.9v-2.6M710.42 533.9v-2.6M764.30 533.9v-2.6" stroke="#5c5c5c" stroke-width="1"/>
<text x="433.2" y="318.6" font-size="10.4" text-anchor="end" font-weight="normal" >0.5</text>
<text x="433.2" y="340.6" font-size="10.4" text-anchor="end" font-weight="normal" >0.45</text>
<text x="433.2" y="362.6" font-size="10.4" text-anchor="end" font-weight="normal" >0.4</text>
<text x="433.2" y="384.6" font-size="10.4" text-anchor="end" font-weight="normal" >0.35</text>
<text x="433.2" y="406.6" font-size="10.4" text-anchor="end" font-weight="normal" >0.3</text>
<text x="433.2" y="428.6" font-size="10.4" text-anchor="end" font-weight="normal" >0.25</text>
<text x="433.2" y="450.5" font-size="10.4" text-anchor="end" font-weight="normal" >0.2</text>
<text x="433.2" y="472.5" font-size="10.4" text-anchor="end" font-weight="normal" >0.15</text>
<text x="433.2" y="494.5" font-size="10.4" text-anchor="end" font-weight="normal" >0.1</text>
<text x="433.2" y="516.5" font-size="10.4" text-anchor="end" font-weight="normal" >0.05</text>
<text x="433.2" y="538.5" font-size="10.4" text-anchor="end" font-weight="normal" >0</text>
<text x="438.8" y="550.4" font-size="10.4" text-anchor="middle" font-weight="normal" >-0.45</text>
<text x="492.7" y="550.4" font-size="10.4" text-anchor="middle" font-weight="normal" >-0.35</text>
<text x="546.6" y="550.4" font-size="10.4" text-anchor="middle" font-weight="normal" >-0.25</text>
<text x="600.4" y="550.4" font-size="10.4" text-anchor="middle" font-weight="normal" >-0.15</text>
<text x="654.3" y="550.4" font-size="10.4" text-anchor="middle" font-weight="normal" >-0.05</text>
<text x="711.9" y="550.4" font-size="10.4" text-anchor="middle" font-weight="normal" >0.05</text>
<text x="765.8" y="550.4" font-size="10.4" text-anchor="middle" font-weight="normal" >0.15</text>
<g fill="#2a3cf0" stroke="#10186a" stroke-width="0.8">
<circle cx="497.8" cy="318.3" r="3.6"/>
<circle cx="528.0" cy="373.3" r="3.6"/>
<circle cx="517.2" cy="394.9" r="3.6"/>
<circle cx="476.8" cy="420.0" r="3.6"/>
<circle cx="574.9" cy="378.7" r="3.6"/>
<circle cx="603.0" cy="379.2" r="3.6"/>
<circle cx="573.9" cy="403.4" r="3.6"/>
<circle cx="588.9" cy="421.9" r="3.6"/>
<circle cx="608.5" cy="400.6" r="3.6"/>
<circle cx="647.7" cy="394.1" r="3.6"/>
<circle cx="708.4" cy="394.1" r="3.6"/>
<circle cx="634.6" cy="399.1" r="3.6"/>
<circle cx="629.1" cy="408.7" r="3.6"/>
<circle cx="626.8" cy="417.3" r="3.6"/>
<circle cx="626.8" cy="425.2" r="3.6"/>
<circle cx="618.7" cy="428.5" r="3.6"/>
<circle cx="634.9" cy="428.1" r="3.6"/>
<circle cx="637.1" cy="433.2" r="3.6"/>
<circle cx="607.3" cy="439.3" r="3.6"/>
<circle cx="612.9" cy="440.1" r="3.6"/>
<circle cx="609.5" cy="448.5" r="3.6"/>
<circle cx="632.9" cy="438.8" r="3.6"/>
<circle cx="645.0" cy="448.5" r="3.6"/>
<circle cx="672.0" cy="447.6" r="3.6"/>
<circle cx="670.7" cy="455.3" r="3.6"/>
<circle cx="659.2" cy="463.1" r="3.6"/>
<circle cx="655.1" cy="472.6" r="3.6"/>
<circle cx="631.8" cy="472.6" r="3.6"/>
<circle cx="673.4" cy="480.4" r="3.6"/>
<circle cx="662.7" cy="501.7" r="3.6"/>
<circle cx="692.9" cy="457.1" r="3.6"/>
<circle cx="628.1" cy="443.5" r="3.6"/>
</g>
<g fill="#e0380c" stroke="#6a1808" stroke-width="0.8">
<circle cx="642.6" cy="398.1" r="3.6"/>
<circle cx="629.1" cy="402.9" r="3.6"/>
<circle cx="616.0" cy="425.4" r="3.6"/>
<circle cx="627.5" cy="447.6" r="3.6"/>
<circle cx="632.6" cy="444.2" r="3.6"/>
<circle cx="639.6" cy="446.2" r="3.6"/>
<circle cx="615.6" cy="459.3" r="3.6"/>
<circle cx="643.9" cy="458.4" r="3.6"/>
<circle cx="651.8" cy="462.1" r="3.6"/>
<circle cx="659.9" cy="465.6" r="3.6"/>
<circle cx="658.3" cy="469.2" r="3.6"/>
<circle cx="659.9" cy="476.0" r="3.6"/>
<circle cx="671.5" cy="462.1" r="3.6"/>
<circle cx="670.5" cy="472.3" r="3.6"/>
<circle cx="629.9" cy="469.2" r="3.6"/>
<circle cx="638.0" cy="469.6" r="3.6"/>
<circle cx="646.1" cy="474.6" r="3.6"/>
<circle cx="650.1" cy="472.3" r="3.6"/>
<circle cx="679.0" cy="475.2" r="3.6"/>
<circle cx="680.0" cy="482.2" r="3.6"/>
<circle cx="674.0" cy="487.2" r="3.6"/>
<circle cx="675.9" cy="492.0" r="3.6"/>
<circle cx="654.5" cy="498.9" r="3.6"/>
<circle cx="667.3" cy="498.9" r="3.6"/>
<circle cx="671.9" cy="497.6" r="3.6"/>
<circle cx="691.5" cy="444.2" r="3.6"/>
<circle cx="691.0" cy="451.0" r="3.6"/>
<circle cx="692.6" cy="454.3" r="3.6"/>
<circle cx="709.1" cy="459.1" r="3.6"/>
<circle cx="695.6" cy="471.2" r="3.6"/>
<circle cx="684.5" cy="474.2" r="3.6"/>
<circle cx="682.9" cy="472.6" r="3.6"/>
<circle cx="690.6" cy="479.1" r="3.6"/>
<circle cx="684.7" cy="481.0" r="3.6"/>
<circle cx="702.0" cy="480.4" r="3.6"/>
<circle cx="687.9" cy="491.1" r="3.6"/>
<circle cx="703.4" cy="488.8" r="3.6"/>
</g>
<g fill="#50902a" stroke="#183409" stroke-width="0.72">
<circle cx="688.3" cy="472.3" r="3.6"/>
<circle cx="610.6" cy="467.5" r="3.6"/>
<circle cx="573.5" cy="425.3" r="3.6"/>
<circle cx="606.9" cy="447.4" r="3.6"/>
<circle cx="632.2" cy="450.8" r="3.6"/>
<circle cx="698.6" cy="461.5" r="3.6"/>
<circle cx="694.3" cy="462.7" r="3.6"/>
<circle cx="602.3" cy="427.5" r="3.6"/>
<circle cx="683.4" cy="475.0" r="3.6"/>
<circle cx="639.1" cy="461.8" r="3.6"/>
<circle cx="621.3" cy="445.2" r="3.6"/>
<circle cx="632.2" cy="432.4" r="3.6"/>
<circle cx="558.5" cy="413.8" r="3.6"/>
<circle cx="621.5" cy="432.4" r="3.6"/>
<circle cx="665.3" cy="452.0" r="3.6"/>
<circle cx="591.8" cy="426.0" r="3.6"/>
<circle cx="625.1" cy="443.2" r="3.6"/>
<circle cx="644.3" cy="444.9" r="3.6"/>
<circle cx="682.2" cy="464.5" r="3.6"/>
<circle cx="671.0" cy="474.4" r="3.6"/>
<circle cx="628.5" cy="435.2" r="3.6"/>
<circle cx="675.7" cy="450.7" r="3.6"/>
<circle cx="568.5" cy="426.8" r="3.6"/>
<circle cx="703.3" cy="457.1" r="3.6"/>
<circle cx="612.2" cy="439.4" r="3.6"/>
<circle cx="698.4" cy="468.3" r="3.6"/>
<circle cx="646.1" cy="450.9" r="3.6"/>
<circle cx="580.7" cy="434.3" r="3.6"/>
<circle cx="616.7" cy="453.5" r="3.6"/>
<circle cx="675.1" cy="461.5" r="3.6"/>
<circle cx="643.3" cy="468.2" r="3.6"/>
<circle cx="663.3" cy="465.8" r="3.6"/>
<circle cx="689.7" cy="463.6" r="3.6"/>
<circle cx="606.7" cy="431.2" r="3.6"/>
<circle cx="603.0" cy="456.5" r="3.6"/>
<circle cx="628.0" cy="462.6" r="3.6"/>
<circle cx="612.0" cy="462.2" r="3.6"/>
<circle cx="676.9" cy="456.2" r="3.6"/>
<circle cx="690.5" cy="454.9" r="3.6"/>
<circle cx="703.7" cy="466.4" r="3.6"/>
<circle cx="658.6" cy="469.0" r="3.6"/>
<circle cx="600.2" cy="430.9" r="3.6"/>
<circle cx="549.8" cy="417.8" r="3.6"/>
<circle cx="683.2" cy="448.0" r="3.6"/>
<circle cx="625.6" cy="428.9" r="3.6"/>
<circle cx="587.6" cy="423.3" r="3.6"/>
<circle cx="586.1" cy="437.9" r="3.6"/>
<circle cx="705.1" cy="451.8" r="3.6"/>
<circle cx="633.0" cy="438.6" r="3.6"/>
<circle cx="639.3" cy="442.4" r="3.6"/>
<circle cx="709.0" cy="458.8" r="3.6"/>
<circle cx="670.8" cy="459.1" r="3.6"/>
<circle cx="652.0" cy="449.8" r="3.6"/>
<circle cx="619.7" cy="465.2" r="3.6"/>
<circle cx="595.4" cy="435.1" r="3.6"/>
<circle cx="551.2" cy="426.1" r="3.6"/>
<circle cx="588.2" cy="446.1" r="3.6"/>
<circle cx="555.4" cy="410.7" r="3.6"/>
<circle cx="684.8" cy="456.6" r="3.6"/>
<circle cx="601.6" cy="439.0" r="3.6"/>
<circle cx="714.4" cy="457.6" r="3.6"/>
<circle cx="647.3" cy="467.0" r="3.6"/>
<circle cx="649.2" cy="457.8" r="3.6"/>
<circle cx="639.0" cy="453.4" r="3.6"/>
<circle cx="676.7" cy="474.5" r="3.6"/>
<circle cx="661.6" cy="456.9" r="3.6"/>
<circle cx="613.5" cy="450.3" r="3.6"/>
<circle cx="622.6" cy="457.0" r="3.6"/>
<circle cx="657.8" cy="460.6" r="3.6"/>
<circle cx="666.9" cy="473.3" r="3.6"/>
<circle cx="692.3" cy="447.9" r="3.6"/>
<circle cx="616.3" cy="430.4" r="3.6"/>
<circle cx="612.3" cy="455.4" r="3.6"/>
<circle cx="666.2" cy="469.1" r="3.6"/>
<circle cx="574.7" cy="420.4" r="3.6"/>
<circle cx="599.3" cy="452.5" r="3.6"/>
<circle cx="677.6" cy="465.6" r="3.6"/>
<circle cx="607.3" cy="462.0" r="3.6"/>
<circle cx="663.6" cy="461.5" r="3.6"/>
<circle cx="609.4" cy="427.3" r="3.6"/>
<circle cx="595.8" cy="444.7" r="3.6"/>
<circle cx="544.8" cy="425.6" r="3.6"/>
<circle cx="607.9" cy="441.3" r="3.6"/>
<circle cx="634.8" cy="454.0" r="3.6"/>
<circle cx="545.5" cy="413.0" r="3.6"/>
<circle cx="673.7" cy="445.2" r="3.6"/>
<circle cx="680.4" cy="469.0" r="3.6"/>
<circle cx="584.9" cy="432.7" r="3.6"/>
<circle cx="618.0" cy="448.7" r="3.6"/>
<circle cx="629.5" cy="441.3" r="3.6"/>
<circle cx="642.2" cy="448.6" r="3.6"/>
<circle cx="581.7" cy="427.1" r="3.6"/>
<circle cx="692.7" cy="471.8" r="3.6"/>
<circle cx="621.6" cy="436.7" r="3.6"/>
<circle cx="661.6" cy="450.2" r="3.6"/>
<circle cx="591.8" cy="443.7" r="3.6"/>
<circle cx="628.6" cy="446.5" r="3.6"/>
<circle cx="551.3" cy="431.2" r="3.6"/>
<circle cx="566.6" cy="418.8" r="3.6"/>
<circle cx="625.7" cy="466.3" r="3.6"/>
<circle cx="555.2" cy="433.0" r="3.6"/>
<circle cx="637.1" cy="438.5" r="3.6"/>
<circle cx="703.1" cy="462.2" r="3.6"/>
<circle cx="583.2" cy="422.0" r="3.6"/>
<circle cx="562.5" cy="413.4" r="3.6"/>
<circle cx="591.0" cy="430.4" r="3.6"/>
<circle cx="653.8" cy="456.8" r="3.6"/>
<circle cx="648.3" cy="462.7" r="3.6"/>
</g>
<g fill="#2a3cf0" stroke="#10186a" stroke-width="0.8">
<circle cx="588.9" cy="421.9" r="3.6"/>
<circle cx="618.7" cy="428.5" r="3.6"/>
</g>
<g fill="#e0380c" stroke="#6a1808" stroke-width="0.8">
<circle cx="616.0" cy="425.4" r="3.6"/>
<circle cx="691.5" cy="444.2" r="3.6"/>
</g>
<g fill="#50902a" stroke="#183409" stroke-width="0.72">
<circle cx="529.8" cy="382.3" r="3.6"/>
<circle cx="534.5" cy="387.4" r="3.6"/>
<circle cx="546.8" cy="394.2" r="3.6"/>
<circle cx="554.1" cy="392.0" r="3.6"/>
<circle cx="534.5" cy="402.5" r="3.6"/>
<circle cx="542.7" cy="403.4" r="3.6"/>
<circle cx="542.7" cy="405.9" r="3.6"/>
<circle cx="525.7" cy="407.2" r="3.6"/>
<circle cx="557.2" cy="402.1" r="3.6"/>
<circle cx="561.0" cy="408.4" r="3.6"/>
<circle cx="590.0" cy="417.9" r="3.6"/>
<circle cx="543.3" cy="416.6" r="3.6"/>
<circle cx="542.7" cy="420.4" r="3.6"/>
<circle cx="550.3" cy="411.6" r="3.6"/>
<circle cx="554.1" cy="415.4" r="3.6"/>
<circle cx="562.3" cy="417.9" r="3.6"/>
<circle cx="559.1" cy="421.7" r="3.6"/>
<circle cx="554.1" cy="422.3" r="3.6"/>
<circle cx="547.1" cy="422.3" r="3.6"/>
<circle cx="570.5" cy="421.7" r="3.6"/>
<circle cx="547.8" cy="428.6" r="3.6"/>
<circle cx="555.3" cy="428.6" r="3.6"/>
<circle cx="560.4" cy="427.4" r="3.6"/>
<circle cx="551.5" cy="435.6" r="3.6"/>
<circle cx="559.7" cy="433.7" r="3.6"/>
<circle cx="565.4" cy="429.9" r="3.6"/>
<circle cx="571.7" cy="433.0" r="3.6"/>
<circle cx="578.7" cy="430.5" r="3.6"/>
<circle cx="579.3" cy="423.6" r="3.6"/>
<circle cx="586.2" cy="428.6" r="3.6"/>
<circle cx="588.8" cy="434.3" r="3.6"/>
<circle cx="595.7" cy="429.9" r="3.6"/>
<circle cx="597.0" cy="425.5" r="3.6"/>
<circle cx="561.6" cy="438.7" r="3.6"/>
<circle cx="569.2" cy="438.1" r="3.6"/>
<circle cx="577.4" cy="438.7" r="3.6"/>
<circle cx="584.4" cy="441.9" r="3.6"/>
<circle cx="590.0" cy="439.4" r="3.6"/>
<circle cx="595.7" cy="440.6" r="3.6"/>
<circle cx="561.9" cy="408.8" r="3.6"/>
<circle cx="562.5" cy="417.6" r="3.6"/>
<circle cx="570.7" cy="418.9" r="3.6"/>
<circle cx="565.0" cy="423.9" r="3.6"/>
<circle cx="560.6" cy="427.7" r="3.6"/>
<circle cx="561.9" cy="436.5" r="3.6"/>
<circle cx="572.0" cy="433.4" r="3.6"/>
<circle cx="578.9" cy="423.3" r="3.6"/>
<circle cx="577.7" cy="430.9" r="3.6"/>
<circle cx="590.0" cy="417.6" r="3.6"/>
<circle cx="586.5" cy="428.3" r="3.6"/>
<circle cx="589.0" cy="434.0" r="3.6"/>
<circle cx="580.2" cy="438.4" r="3.6"/>
<circle cx="583.3" cy="443.5" r="3.6"/>
<circle cx="573.2" cy="447.9" r="3.6"/>
<circle cx="592.2" cy="447.9" r="3.6"/>
<circle cx="585.2" cy="449.8" r="3.6"/>
<circle cx="596.0" cy="430.2" r="3.6"/>
<circle cx="597.9" cy="425.8" r="3.6"/>
<circle cx="595.3" cy="439.7" r="3.6"/>
<circle cx="601.6" cy="434.7" r="3.6"/>
<circle cx="599.1" cy="447.9" r="3.6"/>
<circle cx="594.7" cy="453.6" r="3.6"/>
<circle cx="603.5" cy="442.9" r="3.6"/>
<circle cx="608.6" cy="437.2" r="3.6"/>
<circle cx="611.1" cy="430.9" r="3.6"/>
<circle cx="611.7" cy="435.3" r="3.6"/>
<circle cx="616.8" cy="435.3" r="3.6"/>
<circle cx="619.3" cy="426.5" r="3.6"/>
<circle cx="625.0" cy="422.7" r="3.6"/>
<circle cx="610.5" cy="445.4" r="3.6"/>
<circle cx="605.4" cy="451.7" r="3.6"/>
<circle cx="609.8" cy="452.3" r="3.6"/>
<circle cx="607.3" cy="458.0" r="3.6"/>
<circle cx="601.6" cy="461.8" r="3.6"/>
<circle cx="585.2" cy="461.8" r="3.6"/>
<circle cx="588.4" cy="461.2" r="3.6"/>
<circle cx="619.3" cy="440.3" r="3.6"/>
<circle cx="625.6" cy="439.1" r="3.6"/>
<circle cx="615.5" cy="445.4" r="3.6"/>
<circle cx="621.8" cy="452.3" r="3.6"/>
<circle cx="626.9" cy="450.4" r="3.6"/>
<circle cx="632.6" cy="445.4" r="3.6"/>
<circle cx="635.7" cy="434.7" r="3.6"/>
<circle cx="637.6" cy="449.2" r="3.6"/>
<circle cx="633.2" cy="458.6" r="3.6"/>
<circle cx="627.5" cy="456.1" r="3.6"/>
<circle cx="616.8" cy="459.3" r="3.6"/>
<circle cx="623.1" cy="463.0" r="3.6"/>
<circle cx="615.5" cy="466.2" r="3.6"/>
<circle cx="631.3" cy="465.6" r="3.6"/>
<circle cx="635.7" cy="465.6" r="3.6"/>
<circle cx="612.4" cy="471.9" r="3.6"/>
<circle cx="609.8" cy="473.1" r="3.6"/>
<circle cx="618.0" cy="470.0" r="3.6"/>
<circle cx="635.7" cy="434.5" r="3.6"/>
<circle cx="632.5" cy="444.6" r="3.6"/>
<circle cx="638.2" cy="449.0" r="3.6"/>
<circle cx="631.9" cy="457.9" r="3.6"/>
<circle cx="637.6" cy="457.9" r="3.6"/>
<circle cx="631.9" cy="465.4" r="3.6"/>
<circle cx="638.2" cy="466.1" r="3.6"/>
<circle cx="643.9" cy="461.6" r="3.6"/>
<circle cx="642.6" cy="455.3" r="3.6"/>
<circle cx="638.2" cy="478.0" r="3.6"/>
<circle cx="648.3" cy="445.9" r="3.6"/>
<circle cx="652.7" cy="444.0" r="3.6"/>
<circle cx="657.8" cy="448.4" r="3.6"/>
<circle cx="663.4" cy="446.5" r="3.6"/>
<circle cx="670.4" cy="448.4" r="3.6"/>
<circle cx="678.0" cy="445.9" r="3.6"/>
<circle cx="686.8" cy="450.3" r="3.6"/>
<circle cx="700.0" cy="448.4" r="3.6"/>
<circle cx="694.4" cy="453.4" r="3.6"/>
<circle cx="698.8" cy="456.6" r="3.6"/>
<circle cx="650.8" cy="454.1" r="3.6"/>
<circle cx="657.8" cy="455.3" r="3.6"/>
<circle cx="666.0" cy="457.2" r="3.6"/>
<circle cx="671.6" cy="452.8" r="3.6"/>
<circle cx="680.5" cy="452.8" r="3.6"/>
<circle cx="681.1" cy="458.5" r="3.6"/>
<circle cx="688.0" cy="459.1" r="3.6"/>
<circle cx="694.4" cy="458.5" r="3.6"/>
<circle cx="652.1" cy="461.0" r="3.6"/>
<circle cx="659.0" cy="464.8" r="3.6"/>
<circle cx="670.4" cy="463.5" r="3.6"/>
<circle cx="652.7" cy="467.3" r="3.6"/>
<circle cx="648.3" cy="473.0" r="3.6"/>
<circle cx="662.2" cy="471.1" r="3.6"/>
<circle cx="670.4" cy="469.2" r="3.6"/>
<circle cx="676.7" cy="470.5" r="3.6"/>
<circle cx="684.3" cy="468.0" r="3.6"/>
<circle cx="692.5" cy="467.3" r="3.6"/>
<circle cx="696.9" cy="472.4" r="3.6"/>
<circle cx="691.2" cy="476.8" r="3.6"/>
<circle cx="679.8" cy="478.0" r="3.6"/>
<circle cx="663.4" cy="475.5" r="3.6"/>
<circle cx="654.0" cy="473.6" r="3.6"/>
<circle cx="707.6" cy="474.9" r="3.6"/>
<circle cx="707.0" cy="462.9" r="3.6"/>
<circle cx="709.5" cy="454.7" r="3.6"/>
<circle cx="699.9" cy="448.5" r="3.6"/>
<circle cx="713.9" cy="448.1" r="3.6"/>
<circle cx="723.8" cy="450.8" r="3.6"/>
<circle cx="710.3" cy="454.8" r="3.6"/>
<circle cx="718.4" cy="457.1" r="3.6"/>
<circle cx="720.6" cy="462.0" r="3.6"/>
<circle cx="711.6" cy="462.0" r="3.6"/>
<circle cx="707.1" cy="462.9" r="3.6"/>
<circle cx="717.0" cy="469.7" r="3.6"/>
<circle cx="708.5" cy="475.0" r="3.6"/>
<circle cx="697.2" cy="472.4" r="3.6"/>
<circle cx="694.5" cy="458.0" r="3.6"/>
<circle cx="698.1" cy="455.7" r="3.6"/>
<circle cx="692.7" cy="466.5" r="3.6"/>
<circle cx="691.4" cy="476.4" r="3.6"/>
<circle cx="543.7" cy="416.8" r="3.6"/>
<circle cx="543.0" cy="421.9" r="3.6"/>
<circle cx="550.5" cy="411.4" r="3.6"/>
<circle cx="554.9" cy="416.1" r="3.6"/>
<circle cx="562.4" cy="417.9" r="3.6"/>
<circle cx="553.1" cy="421.5" r="3.6"/>
<circle cx="558.8" cy="421.9" r="3.6"/>
<circle cx="564.6" cy="424.4" r="3.6"/>
<circle cx="570.3" cy="421.5" r="3.6"/>
<circle cx="547.7" cy="429.1" r="3.6"/>
<circle cx="554.9" cy="428.4" r="3.6"/>
<circle cx="560.6" cy="428.0" r="3.6"/>
<circle cx="563.9" cy="430.9" r="3.6"/>
<circle cx="551.6" cy="435.6" r="3.6"/>
<circle cx="559.5" cy="434.5" r="3.6"/>
<circle cx="561.0" cy="439.5" r="3.6"/>
<circle cx="567.5" cy="436.7" r="3.6"/>
<circle cx="571.8" cy="433.1" r="3.6"/>
<circle cx="577.6" cy="430.9" r="3.6"/>
<circle cx="577.9" cy="423.3" r="3.6"/>
<circle cx="570.3" cy="438.5" r="3.6"/>
<circle cx="573.6" cy="447.5" r="3.6"/>
<circle cx="577.6" cy="443.9" r="3.6"/>
<circle cx="574.7" cy="442.4" r="3.6"/>
</g>
<rect x="458.5" y="461.4" width="53.700000000000045" height="48.900000000000034" fill="#fff" stroke="#6e6e6e" stroke-width="1"/>
<circle cx="464.9" cy="469.8" r="3.2" fill="#2a3cf0" stroke="#10186a" stroke-width="0.6"/>
<text x="469.9" y="474.6" font-size="10.4" text-anchor="start" font-weight="normal" >Visual</text>
<circle cx="464.9" cy="486.2" r="3.2" fill="#e0380c" stroke="#6a1808" stroke-width="0.6"/>
<text x="469.9" y="491" font-size="10.4" text-anchor="start" font-weight="normal" >Auditory</text>
<circle cx="464.9" cy="502.7" r="3.2" fill="#50902a" stroke="#183409" stroke-width="0.6"/>
<text x="469.9" y="507.4" font-size="10.4" text-anchor="start" font-weight="normal" >Model</text>
<text x="60.3" y="19.2" font-size="21.5" text-anchor="start" font-weight="bold" >a</text>
<text x="423.6" y="19.2" font-size="21.5" text-anchor="start" font-weight="bold" >b</text>
<text x="59.8" y="300.4" font-size="21.5" text-anchor="start" font-weight="bold" >c</text>
<text x="423.4" y="299.9" font-size="21.5" text-anchor="start" font-weight="bold" >d</text>
<text transform="translate(230.6,293.1) scale(1,0.93)" font-size="13.65" text-anchor="middle">Decision Bias (sec)</text>
<text transform="translate(44.4,146.6) rotate(-90) scale(1,0.88)" font-size="13.75" text-anchor="middle">Perceptual Asymmetry</text>
<text transform="translate(401.9,152.4) rotate(-90) scale(1,0.88)" font-size="13.6" text-anchor="middle">Coefficient of Variation</text>
<text transform="translate(403.6,435.2) rotate(-90) scale(1,0.88)" font-size="13.6" text-anchor="middle">Coefficient of Variation</text>
<text transform="translate(14.2,65.4) rotate(-90) scale(1,0.88)" font-size="13.85" text-anchor="middle">contrastive</text>
<text transform="translate(14.2,209.5) rotate(-90) scale(1,0.88)" font-size="14.0" text-anchor="middle">assimilative</text>
<path d="M21.1 104V40.5H18.1L22.9 30.9L27.8 40.5H24.9V104Z" fill="#000"/>
<path d="M21.1 179V246.3H18.1L22.9 255.3L27.8 246.3H24.9V179Z" fill="#000"/>
</svg>
</body></html>
